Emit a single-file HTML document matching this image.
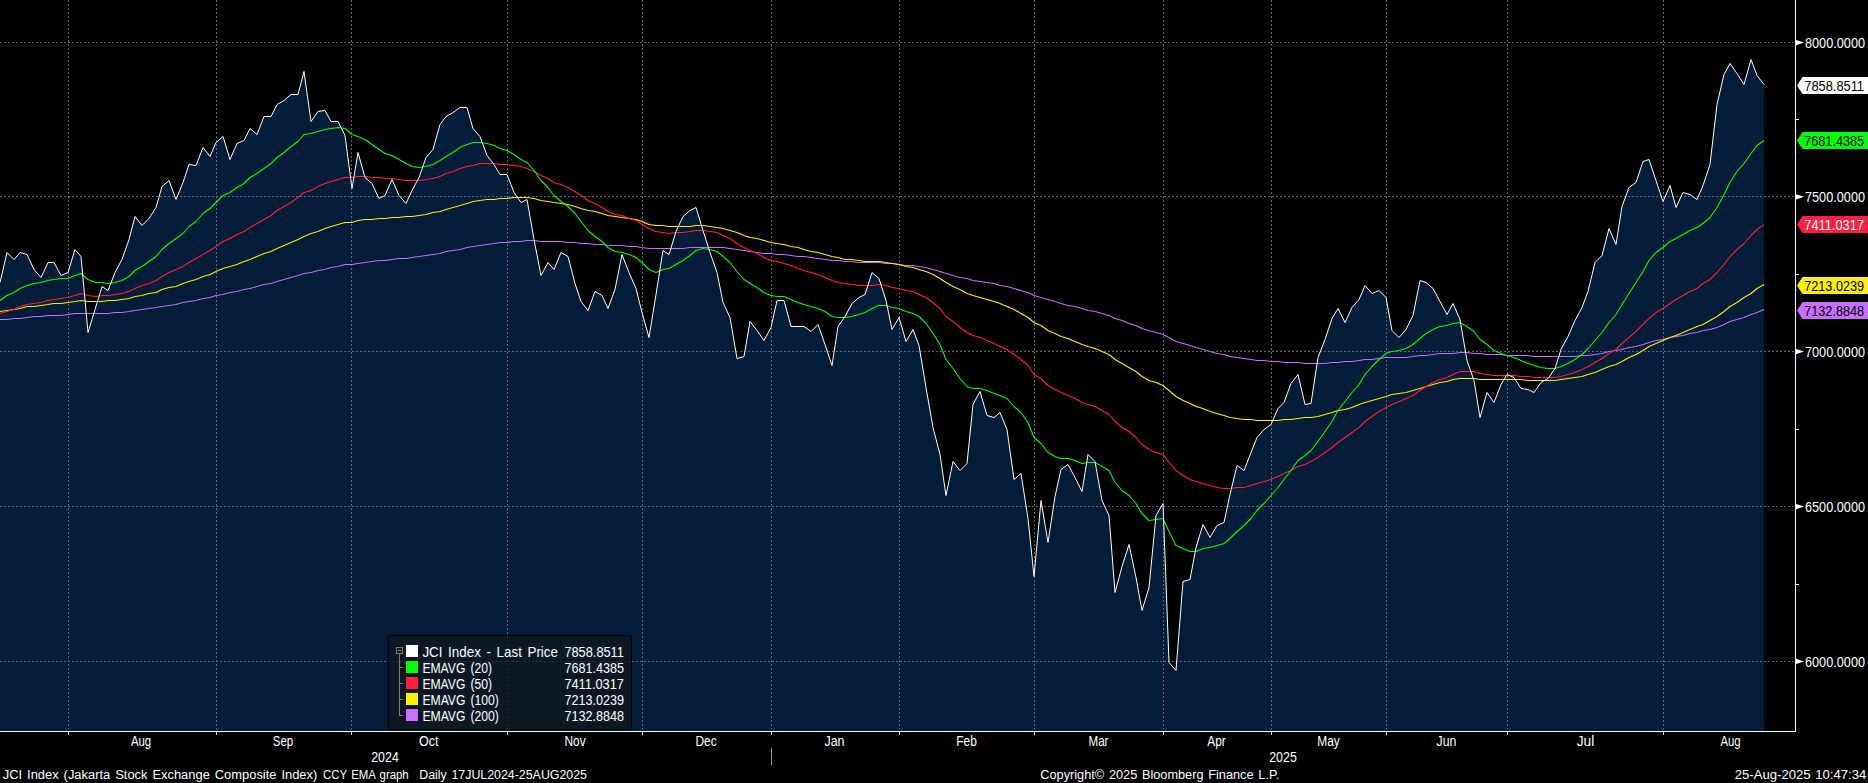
<!DOCTYPE html><html><head><meta charset="utf-8"><title>JCI Index</title><style>html,body{margin:0;padding:0;background:#000;overflow:hidden}body{width:1868px;height:783px;position:relative;font-family:"Liberation Sans",sans-serif}</style></head><body><svg width="1868" height="783" viewBox="0 0 1868 783" style="position:absolute;left:0;top:0" font-family="Liberation Sans, sans-serif"><defs><clipPath id="ac"><path d="M0,731 L0,282.50 L0.00,282.50 L7.00,252.50 L14.00,259.50 L20.00,252.50 L27.00,254.50 L34.00,269.50 L41.00,277.50 L48.00,262.50 L54.00,262.50 L61.00,275.50 L68.00,272.50 L75.00,249.50 L81.00,256.50 L88.00,332.50 L95.00,309.50 L102.00,286.50 L108.00,290.50 L115.00,272.50 L122.00,259.50 L129.00,239.50 L135.00,216.50 L142.00,225.50 L149.00,218.50 L156.00,207.50 L162.00,186.50 L169.00,180.50 L176.00,199.50 L183.00,182.50 L189.00,164.50 L196.00,165.50 L203.00,147.50 L210.00,156.50 L216.00,142.50 L223.00,136.50 L230.00,159.50 L237.00,143.50 L244.00,140.50 L250.00,128.50 L257.00,134.50 L264.00,116.50 L271.00,116.50 L277.00,104.50 L284.00,100.50 L291.00,94.50 L298.00,94.50 L304.00,71.50 L311.00,121.50 L318.00,111.50 L325.00,110.50 L331.00,121.50 L338.00,121.50 L345.00,135.50 L352.00,188.50 L358.00,152.50 L365.00,177.50 L372.00,183.50 L379.00,198.50 L385.00,195.50 L392.00,179.50 L399.00,195.50 L406.00,203.50 L412.00,190.50 L419.00,177.50 L426.00,157.50 L433.00,149.50 L440.00,124.50 L446.00,116.50 L453.00,112.50 L460.00,107.50 L467.00,107.50 L473.00,128.50 L480.00,136.50 L487.00,155.50 L494.00,164.50 L500.00,174.50 L507.00,174.50 L514.00,192.50 L521.00,202.50 L527.00,199.50 L534.00,239.50 L541.00,275.50 L548.00,262.50 L554.00,269.50 L561.00,252.50 L568.00,256.50 L575.00,283.50 L581.00,301.50 L588.00,310.50 L595.00,291.50 L602.00,295.50 L608.00,308.50 L615.00,289.50 L622.00,254.50 L629.00,272.50 L636.00,288.50 L642.00,312.50 L649.00,337.50 L656.00,294.50 L663.00,250.50 L669.00,254.50 L676.00,231.50 L683.00,216.50 L690.00,210.50 L696.00,207.50 L703.00,230.50 L710.00,252.50 L717.00,272.50 L723.00,302.50 L730.00,317.50 L737.00,358.50 L744.00,356.50 L750.00,321.50 L757.00,330.50 L764.00,340.50 L771.00,327.50 L777.00,300.50 L784.00,300.50 L791.00,326.50 L798.00,326.50 L804.00,326.50 L811.00,331.50 L818.00,324.50 L825.00,344.50 L832.00,365.50 L838.00,326.50 L845.00,316.50 L852.00,303.50 L859.00,297.50 L865.00,294.50 L872.00,272.50 L879.00,278.50 L886.00,300.50 L892.00,329.50 L899.00,317.50 L906.00,341.50 L913.00,329.50 L919.00,345.50 L926.00,387.50 L933.00,427.50 L940.00,454.50 L946.00,495.50 L953.00,461.50 L960.00,470.50 L967.00,463.50 L973.00,404.50 L980.00,391.50 L987.00,415.50 L994.00,417.50 L1000.00,412.50 L1007.00,429.50 L1014.00,479.50 L1021.00,473.50 L1028.00,518.50 L1034.00,576.50 L1041.00,500.50 L1048.00,542.50 L1055.00,496.50 L1061.00,469.50 L1068.00,464.50 L1075.00,477.50 L1082.00,491.50 L1088.00,454.50 L1095.00,461.50 L1102.00,500.50 L1109.00,515.50 L1115.00,592.50 L1122.00,566.50 L1129.00,544.50 L1136.00,577.50 L1142.00,610.50 L1149.00,587.50 L1156.00,515.50 L1163.00,503.50 L1169.00,662.50 L1176.00,670.50 L1183.00,581.50 L1190.00,579.50 L1196.00,547.50 L1203.00,524.50 L1210.00,537.50 L1217.00,525.50 L1224.00,522.50 L1230.00,494.50 L1237.00,465.50 L1244.00,470.50 L1251.00,452.50 L1257.00,437.50 L1264.00,429.50 L1271.00,424.50 L1278.00,408.50 L1284.00,402.50 L1291.00,383.50 L1298.00,374.50 L1305.00,404.50 L1311.00,403.50 L1318.00,357.50 L1325.00,339.50 L1332.00,318.50 L1338.00,308.50 L1345.00,322.50 L1352.00,307.50 L1359.00,299.50 L1365.00,285.50 L1372.00,293.50 L1379.00,290.50 L1386.00,297.50 L1392.00,330.50 L1399.00,337.50 L1406.00,329.50 L1413.00,315.50 L1420.00,280.50 L1426.00,282.50 L1433.00,288.50 L1440.00,301.50 L1447.00,314.50 L1453.00,303.50 L1460.00,319.50 L1467.00,360.50 L1474.00,380.50 L1480.00,417.50 L1487.00,392.50 L1494.00,402.50 L1501.00,384.50 L1507.00,374.50 L1514.00,377.50 L1521.00,388.50 L1528.00,389.50 L1534.00,392.50 L1541.00,382.50 L1548.00,378.50 L1555.00,368.50 L1561.00,349.50 L1568.00,336.50 L1575.00,320.50 L1582.00,307.50 L1588.00,291.50 L1595.00,262.50 L1602.00,255.50 L1609.00,228.50 L1616.00,244.50 L1622.00,206.50 L1629.00,187.50 L1636.00,182.50 L1643.00,161.50 L1649.00,159.50 L1656.00,180.50 L1663.00,201.50 L1670.00,185.50 L1676.00,207.50 L1683.00,192.50 L1690.00,194.50 L1697.00,199.50 L1703.00,185.50 L1710.00,164.50 L1717.00,104.50 L1724.00,74.50 L1730.00,63.50 L1737.00,73.50 L1744.00,84.50 L1751.00,59.50 L1757.00,75.50 L1764.00,84.50 L1764,84.50 L1764,731 Z"/></clipPath></defs><rect width="1868" height="783" fill="#000"/><path d="M0,731 L0,282.50 L0.00,282.50 L7.00,252.50 L14.00,259.50 L20.00,252.50 L27.00,254.50 L34.00,269.50 L41.00,277.50 L48.00,262.50 L54.00,262.50 L61.00,275.50 L68.00,272.50 L75.00,249.50 L81.00,256.50 L88.00,332.50 L95.00,309.50 L102.00,286.50 L108.00,290.50 L115.00,272.50 L122.00,259.50 L129.00,239.50 L135.00,216.50 L142.00,225.50 L149.00,218.50 L156.00,207.50 L162.00,186.50 L169.00,180.50 L176.00,199.50 L183.00,182.50 L189.00,164.50 L196.00,165.50 L203.00,147.50 L210.00,156.50 L216.00,142.50 L223.00,136.50 L230.00,159.50 L237.00,143.50 L244.00,140.50 L250.00,128.50 L257.00,134.50 L264.00,116.50 L271.00,116.50 L277.00,104.50 L284.00,100.50 L291.00,94.50 L298.00,94.50 L304.00,71.50 L311.00,121.50 L318.00,111.50 L325.00,110.50 L331.00,121.50 L338.00,121.50 L345.00,135.50 L352.00,188.50 L358.00,152.50 L365.00,177.50 L372.00,183.50 L379.00,198.50 L385.00,195.50 L392.00,179.50 L399.00,195.50 L406.00,203.50 L412.00,190.50 L419.00,177.50 L426.00,157.50 L433.00,149.50 L440.00,124.50 L446.00,116.50 L453.00,112.50 L460.00,107.50 L467.00,107.50 L473.00,128.50 L480.00,136.50 L487.00,155.50 L494.00,164.50 L500.00,174.50 L507.00,174.50 L514.00,192.50 L521.00,202.50 L527.00,199.50 L534.00,239.50 L541.00,275.50 L548.00,262.50 L554.00,269.50 L561.00,252.50 L568.00,256.50 L575.00,283.50 L581.00,301.50 L588.00,310.50 L595.00,291.50 L602.00,295.50 L608.00,308.50 L615.00,289.50 L622.00,254.50 L629.00,272.50 L636.00,288.50 L642.00,312.50 L649.00,337.50 L656.00,294.50 L663.00,250.50 L669.00,254.50 L676.00,231.50 L683.00,216.50 L690.00,210.50 L696.00,207.50 L703.00,230.50 L710.00,252.50 L717.00,272.50 L723.00,302.50 L730.00,317.50 L737.00,358.50 L744.00,356.50 L750.00,321.50 L757.00,330.50 L764.00,340.50 L771.00,327.50 L777.00,300.50 L784.00,300.50 L791.00,326.50 L798.00,326.50 L804.00,326.50 L811.00,331.50 L818.00,324.50 L825.00,344.50 L832.00,365.50 L838.00,326.50 L845.00,316.50 L852.00,303.50 L859.00,297.50 L865.00,294.50 L872.00,272.50 L879.00,278.50 L886.00,300.50 L892.00,329.50 L899.00,317.50 L906.00,341.50 L913.00,329.50 L919.00,345.50 L926.00,387.50 L933.00,427.50 L940.00,454.50 L946.00,495.50 L953.00,461.50 L960.00,470.50 L967.00,463.50 L973.00,404.50 L980.00,391.50 L987.00,415.50 L994.00,417.50 L1000.00,412.50 L1007.00,429.50 L1014.00,479.50 L1021.00,473.50 L1028.00,518.50 L1034.00,576.50 L1041.00,500.50 L1048.00,542.50 L1055.00,496.50 L1061.00,469.50 L1068.00,464.50 L1075.00,477.50 L1082.00,491.50 L1088.00,454.50 L1095.00,461.50 L1102.00,500.50 L1109.00,515.50 L1115.00,592.50 L1122.00,566.50 L1129.00,544.50 L1136.00,577.50 L1142.00,610.50 L1149.00,587.50 L1156.00,515.50 L1163.00,503.50 L1169.00,662.50 L1176.00,670.50 L1183.00,581.50 L1190.00,579.50 L1196.00,547.50 L1203.00,524.50 L1210.00,537.50 L1217.00,525.50 L1224.00,522.50 L1230.00,494.50 L1237.00,465.50 L1244.00,470.50 L1251.00,452.50 L1257.00,437.50 L1264.00,429.50 L1271.00,424.50 L1278.00,408.50 L1284.00,402.50 L1291.00,383.50 L1298.00,374.50 L1305.00,404.50 L1311.00,403.50 L1318.00,357.50 L1325.00,339.50 L1332.00,318.50 L1338.00,308.50 L1345.00,322.50 L1352.00,307.50 L1359.00,299.50 L1365.00,285.50 L1372.00,293.50 L1379.00,290.50 L1386.00,297.50 L1392.00,330.50 L1399.00,337.50 L1406.00,329.50 L1413.00,315.50 L1420.00,280.50 L1426.00,282.50 L1433.00,288.50 L1440.00,301.50 L1447.00,314.50 L1453.00,303.50 L1460.00,319.50 L1467.00,360.50 L1474.00,380.50 L1480.00,417.50 L1487.00,392.50 L1494.00,402.50 L1501.00,384.50 L1507.00,374.50 L1514.00,377.50 L1521.00,388.50 L1528.00,389.50 L1534.00,392.50 L1541.00,382.50 L1548.00,378.50 L1555.00,368.50 L1561.00,349.50 L1568.00,336.50 L1575.00,320.50 L1582.00,307.50 L1588.00,291.50 L1595.00,262.50 L1602.00,255.50 L1609.00,228.50 L1616.00,244.50 L1622.00,206.50 L1629.00,187.50 L1636.00,182.50 L1643.00,161.50 L1649.00,159.50 L1656.00,180.50 L1663.00,201.50 L1670.00,185.50 L1676.00,207.50 L1683.00,192.50 L1690.00,194.50 L1697.00,199.50 L1703.00,185.50 L1710.00,164.50 L1717.00,104.50 L1724.00,74.50 L1730.00,63.50 L1737.00,73.50 L1744.00,84.50 L1751.00,59.50 L1757.00,75.50 L1764.00,84.50 L1764,84.50 L1764,731 Z" fill="#031c37"/><g shape-rendering="crispEdges"><line x1="68.5" y1="0" x2="68.5" y2="731" stroke="#626262" stroke-width="1" stroke-dasharray="2 2"/><line x1="216.5" y1="0" x2="216.5" y2="731" stroke="#626262" stroke-width="1" stroke-dasharray="2 2"/><line x1="351.5" y1="0" x2="351.5" y2="731" stroke="#626262" stroke-width="1" stroke-dasharray="2 2"/><line x1="507.5" y1="0" x2="507.5" y2="731" stroke="#626262" stroke-width="1" stroke-dasharray="2 2"/><line x1="642.5" y1="0" x2="642.5" y2="731" stroke="#626262" stroke-width="1" stroke-dasharray="2 2"/><line x1="771.5" y1="0" x2="771.5" y2="731" stroke="#626262" stroke-width="1" stroke-dasharray="2 2"/><line x1="899.5" y1="0" x2="899.5" y2="731" stroke="#626262" stroke-width="1" stroke-dasharray="2 2"/><line x1="1034.5" y1="0" x2="1034.5" y2="731" stroke="#626262" stroke-width="1" stroke-dasharray="2 2"/><line x1="1163.5" y1="0" x2="1163.5" y2="731" stroke="#626262" stroke-width="1" stroke-dasharray="2 2"/><line x1="1271.5" y1="0" x2="1271.5" y2="731" stroke="#626262" stroke-width="1" stroke-dasharray="2 2"/><line x1="1386.5" y1="0" x2="1386.5" y2="731" stroke="#626262" stroke-width="1" stroke-dasharray="2 2"/><line x1="1507.5" y1="0" x2="1507.5" y2="731" stroke="#626262" stroke-width="1" stroke-dasharray="2 2"/><line x1="1663.5" y1="0" x2="1663.5" y2="731" stroke="#626262" stroke-width="1" stroke-dasharray="2 2"/><line x1="0" y1="42.5" x2="1795" y2="42.5" stroke="#626262" stroke-width="1" stroke-dasharray="2 2"/><line x1="0" y1="196.5" x2="1795" y2="196.5" stroke="#626262" stroke-width="1" stroke-dasharray="2 2"/><line x1="0" y1="351.5" x2="1795" y2="351.5" stroke="#626262" stroke-width="1" stroke-dasharray="2 2"/><line x1="0" y1="506.5" x2="1795" y2="506.5" stroke="#626262" stroke-width="1" stroke-dasharray="2 2"/><line x1="0" y1="661.5" x2="1795" y2="661.5" stroke="#626262" stroke-width="1" stroke-dasharray="2 2"/></g><g shape-rendering="crispEdges" clip-path="url(#ac)"><line x1="68.5" y1="0" x2="68.5" y2="731" stroke="#526986" stroke-width="1" stroke-dasharray="2 2"/><line x1="216.5" y1="0" x2="216.5" y2="731" stroke="#526986" stroke-width="1" stroke-dasharray="2 2"/><line x1="351.5" y1="0" x2="351.5" y2="731" stroke="#526986" stroke-width="1" stroke-dasharray="2 2"/><line x1="507.5" y1="0" x2="507.5" y2="731" stroke="#526986" stroke-width="1" stroke-dasharray="2 2"/><line x1="642.5" y1="0" x2="642.5" y2="731" stroke="#526986" stroke-width="1" stroke-dasharray="2 2"/><line x1="771.5" y1="0" x2="771.5" y2="731" stroke="#526986" stroke-width="1" stroke-dasharray="2 2"/><line x1="899.5" y1="0" x2="899.5" y2="731" stroke="#526986" stroke-width="1" stroke-dasharray="2 2"/><line x1="1034.5" y1="0" x2="1034.5" y2="731" stroke="#526986" stroke-width="1" stroke-dasharray="2 2"/><line x1="1163.5" y1="0" x2="1163.5" y2="731" stroke="#526986" stroke-width="1" stroke-dasharray="2 2"/><line x1="1271.5" y1="0" x2="1271.5" y2="731" stroke="#526986" stroke-width="1" stroke-dasharray="2 2"/><line x1="1386.5" y1="0" x2="1386.5" y2="731" stroke="#526986" stroke-width="1" stroke-dasharray="2 2"/><line x1="1507.5" y1="0" x2="1507.5" y2="731" stroke="#526986" stroke-width="1" stroke-dasharray="2 2"/><line x1="1663.5" y1="0" x2="1663.5" y2="731" stroke="#526986" stroke-width="1" stroke-dasharray="2 2"/><line x1="0" y1="42.5" x2="1795" y2="42.5" stroke="#526986" stroke-width="1" stroke-dasharray="2 2"/><line x1="0" y1="196.5" x2="1795" y2="196.5" stroke="#526986" stroke-width="1" stroke-dasharray="2 2"/><line x1="0" y1="351.5" x2="1795" y2="351.5" stroke="#526986" stroke-width="1" stroke-dasharray="2 2"/><line x1="0" y1="506.5" x2="1795" y2="506.5" stroke="#526986" stroke-width="1" stroke-dasharray="2 2"/><line x1="0" y1="661.5" x2="1795" y2="661.5" stroke="#526986" stroke-width="1" stroke-dasharray="2 2"/></g><path d="M0.00,319.50 L7.00,319.50 L14.00,318.50 L20.00,318.50 L27.00,317.50 L34.00,316.50 L41.00,316.50 L48.00,315.50 L54.00,315.50 L61.00,315.50 L68.00,314.50 L75.00,313.50 L81.00,313.50 L88.00,313.50 L95.00,313.50 L102.00,313.50 L108.00,313.50 L115.00,312.50 L122.00,312.50 L129.00,311.50 L135.00,310.50 L142.00,309.50 L149.00,308.50 L156.00,307.50 L162.00,306.50 L169.00,305.50 L176.00,304.50 L183.00,302.50 L189.00,301.50 L196.00,300.50 L203.00,298.50 L210.00,297.50 L216.00,295.50 L223.00,294.50 L230.00,292.50 L237.00,291.50 L244.00,289.50 L250.00,288.50 L257.00,286.50 L264.00,284.50 L271.00,283.50 L277.00,281.50 L284.00,279.50 L291.00,277.50 L298.00,275.50 L304.00,273.50 L311.00,272.50 L318.00,270.50 L325.00,269.50 L331.00,267.50 L338.00,266.50 L345.00,264.50 L352.00,264.50 L358.00,263.50 L365.00,262.50 L372.00,261.50 L379.00,260.50 L385.00,260.50 L392.00,259.50 L399.00,258.50 L406.00,258.50 L412.00,257.50 L419.00,256.50 L426.00,255.50 L433.00,254.50 L440.00,253.50 L446.00,251.50 L453.00,250.50 L460.00,249.50 L467.00,247.50 L473.00,246.50 L480.00,245.50 L487.00,244.50 L494.00,243.50 L500.00,242.50 L507.00,242.50 L514.00,241.50 L521.00,241.50 L527.00,240.50 L534.00,240.50 L541.00,241.50 L548.00,241.50 L554.00,241.50 L561.00,241.50 L568.00,242.50 L575.00,242.50 L581.00,243.50 L588.00,243.50 L595.00,244.50 L602.00,244.50 L608.00,245.50 L615.00,245.50 L622.00,245.50 L629.00,246.50 L636.00,246.50 L642.00,247.50 L649.00,248.50 L656.00,248.50 L663.00,248.50 L669.00,248.50 L676.00,248.50 L683.00,248.50 L690.00,247.50 L696.00,247.50 L703.00,247.50 L710.00,247.50 L717.00,247.50 L723.00,247.50 L730.00,248.50 L737.00,249.50 L744.00,250.50 L750.00,251.50 L757.00,252.50 L764.00,253.50 L771.00,253.50 L777.00,254.50 L784.00,254.50 L791.00,255.50 L798.00,256.50 L804.00,256.50 L811.00,257.50 L818.00,258.50 L825.00,259.50 L832.00,260.50 L838.00,260.50 L845.00,261.50 L852.00,261.50 L859.00,262.50 L865.00,262.50 L872.00,262.50 L879.00,262.50 L886.00,263.50 L892.00,263.50 L899.00,264.50 L906.00,265.50 L913.00,265.50 L919.00,266.50 L926.00,267.50 L933.00,269.50 L940.00,271.50 L946.00,273.50 L953.00,275.50 L960.00,277.50 L967.00,278.50 L973.00,280.50 L980.00,281.50 L987.00,282.50 L994.00,283.50 L1000.00,285.50 L1007.00,286.50 L1014.00,288.50 L1021.00,290.50 L1028.00,292.50 L1034.00,295.50 L1041.00,297.50 L1048.00,299.50 L1055.00,301.50 L1061.00,303.50 L1068.00,305.50 L1075.00,306.50 L1082.00,308.50 L1088.00,310.50 L1095.00,311.50 L1102.00,313.50 L1109.00,315.50 L1115.00,318.50 L1122.00,320.50 L1129.00,323.50 L1136.00,325.50 L1142.00,328.50 L1149.00,330.50 L1156.00,332.50 L1163.00,334.50 L1169.00,337.50 L1176.00,341.50 L1183.00,343.50 L1190.00,345.50 L1196.00,347.50 L1203.00,349.50 L1210.00,351.50 L1217.00,353.50 L1224.00,354.50 L1230.00,356.50 L1237.00,357.50 L1244.00,358.50 L1251.00,359.50 L1257.00,360.50 L1264.00,360.50 L1271.00,361.50 L1278.00,361.50 L1284.00,362.50 L1291.00,362.50 L1298.00,362.50 L1305.00,363.50 L1311.00,363.50 L1318.00,363.50 L1325.00,363.50 L1332.00,362.50 L1338.00,362.50 L1345.00,361.50 L1352.00,361.50 L1359.00,360.50 L1365.00,359.50 L1372.00,359.50 L1379.00,358.50 L1386.00,357.50 L1392.00,357.50 L1399.00,357.50 L1406.00,357.50 L1413.00,356.50 L1420.00,355.50 L1426.00,355.50 L1433.00,354.50 L1440.00,353.50 L1447.00,353.50 L1453.00,353.50 L1460.00,352.50 L1467.00,352.50 L1474.00,353.50 L1480.00,353.50 L1487.00,354.50 L1494.00,354.50 L1501.00,354.50 L1507.00,355.50 L1514.00,355.50 L1521.00,355.50 L1528.00,355.50 L1534.00,356.50 L1541.00,356.50 L1548.00,356.50 L1555.00,356.50 L1561.00,356.50 L1568.00,356.50 L1575.00,356.50 L1582.00,355.50 L1588.00,355.50 L1595.00,354.50 L1602.00,353.50 L1609.00,351.50 L1616.00,350.50 L1622.00,349.50 L1629.00,347.50 L1636.00,346.50 L1643.00,344.50 L1649.00,342.50 L1656.00,340.50 L1663.00,339.50 L1670.00,337.50 L1676.00,336.50 L1683.00,335.50 L1690.00,333.50 L1697.00,332.50 L1703.00,330.50 L1710.00,329.50 L1717.00,327.50 L1724.00,324.50 L1730.00,321.50 L1737.00,319.50 L1744.00,317.50 L1751.00,314.50 L1757.00,312.50 L1764.00,309.50" fill="none" stroke="#c76fff" stroke-width="1.1" stroke-linejoin="round"/><path d="M0.00,311.50 L7.00,310.50 L14.00,309.50 L20.00,308.50 L27.00,306.50 L34.00,306.50 L41.00,305.50 L48.00,304.50 L54.00,303.50 L61.00,303.50 L68.00,302.50 L75.00,301.50 L81.00,300.50 L88.00,301.50 L95.00,301.50 L102.00,301.50 L108.00,300.50 L115.00,300.50 L122.00,299.50 L129.00,298.50 L135.00,296.50 L142.00,295.50 L149.00,293.50 L156.00,292.50 L162.00,289.50 L169.00,287.50 L176.00,286.50 L183.00,283.50 L189.00,281.50 L196.00,279.50 L203.00,276.50 L210.00,274.50 L216.00,271.50 L223.00,268.50 L230.00,266.50 L237.00,264.50 L244.00,261.50 L250.00,259.50 L257.00,256.50 L264.00,253.50 L271.00,251.50 L277.00,248.50 L284.00,245.50 L291.00,242.50 L298.00,239.50 L304.00,236.50 L311.00,233.50 L318.00,231.50 L325.00,228.50 L331.00,226.50 L338.00,224.50 L345.00,222.50 L352.00,222.50 L358.00,220.50 L365.00,219.50 L372.00,219.50 L379.00,218.50 L385.00,218.50 L392.00,217.50 L399.00,217.50 L406.00,216.50 L412.00,216.50 L419.00,215.50 L426.00,214.50 L433.00,212.50 L440.00,211.50 L446.00,209.50 L453.00,207.50 L460.00,205.50 L467.00,203.50 L473.00,201.50 L480.00,200.50 L487.00,199.50 L494.00,199.50 L500.00,198.50 L507.00,198.50 L514.00,197.50 L521.00,197.50 L527.00,197.50 L534.00,198.50 L541.00,200.50 L548.00,201.50 L554.00,202.50 L561.00,203.50 L568.00,204.50 L575.00,206.50 L581.00,208.50 L588.00,210.50 L595.00,211.50 L602.00,213.50 L608.00,215.50 L615.00,216.50 L622.00,217.50 L629.00,218.50 L636.00,219.50 L642.00,221.50 L649.00,224.50 L656.00,225.50 L663.00,225.50 L669.00,226.50 L676.00,226.50 L683.00,226.50 L690.00,226.50 L696.00,225.50 L703.00,225.50 L710.00,226.50 L717.00,227.50 L723.00,228.50 L730.00,230.50 L737.00,232.50 L744.00,235.50 L750.00,237.50 L757.00,238.50 L764.00,240.50 L771.00,242.50 L777.00,243.50 L784.00,244.50 L791.00,246.50 L798.00,247.50 L804.00,249.50 L811.00,251.50 L818.00,252.50 L825.00,254.50 L832.00,256.50 L838.00,257.50 L845.00,259.50 L852.00,259.50 L859.00,260.50 L865.00,261.50 L872.00,261.50 L879.00,261.50 L886.00,262.50 L892.00,263.50 L899.00,264.50 L906.00,266.50 L913.00,267.50 L919.00,269.50 L926.00,271.50 L933.00,274.50 L940.00,278.50 L946.00,282.50 L953.00,286.50 L960.00,289.50 L967.00,293.50 L973.00,295.50 L980.00,297.50 L987.00,299.50 L994.00,301.50 L1000.00,303.50 L1007.00,306.50 L1014.00,309.50 L1021.00,313.50 L1028.00,317.50 L1034.00,322.50 L1041.00,325.50 L1048.00,330.50 L1055.00,333.50 L1061.00,336.50 L1068.00,338.50 L1075.00,341.50 L1082.00,344.50 L1088.00,346.50 L1095.00,348.50 L1102.00,351.50 L1109.00,354.50 L1115.00,359.50 L1122.00,363.50 L1129.00,367.50 L1136.00,371.50 L1142.00,376.50 L1149.00,380.50 L1156.00,382.50 L1163.00,385.50 L1169.00,390.50 L1176.00,396.50 L1183.00,400.50 L1190.00,403.50 L1196.00,406.50 L1203.00,408.50 L1210.00,411.50 L1217.00,413.50 L1224.00,415.50 L1230.00,417.50 L1237.00,418.50 L1244.00,419.50 L1251.00,419.50 L1257.00,420.50 L1264.00,420.50 L1271.00,420.50 L1278.00,420.50 L1284.00,419.50 L1291.00,419.50 L1298.00,418.50 L1305.00,417.50 L1311.00,417.50 L1318.00,416.50 L1325.00,414.50 L1332.00,412.50 L1338.00,410.50 L1345.00,409.50 L1352.00,407.50 L1359.00,404.50 L1365.00,402.50 L1372.00,400.50 L1379.00,398.50 L1386.00,396.50 L1392.00,394.50 L1399.00,393.50 L1406.00,392.50 L1413.00,390.50 L1420.00,388.50 L1426.00,386.50 L1433.00,384.50 L1440.00,382.50 L1447.00,381.50 L1453.00,379.50 L1460.00,378.50 L1467.00,378.50 L1474.00,378.50 L1480.00,379.50 L1487.00,379.50 L1494.00,379.50 L1501.00,379.50 L1507.00,379.50 L1514.00,379.50 L1521.00,379.50 L1528.00,380.50 L1534.00,380.50 L1541.00,380.50 L1548.00,380.50 L1555.00,380.50 L1561.00,379.50 L1568.00,378.50 L1575.00,377.50 L1582.00,376.50 L1588.00,374.50 L1595.00,372.50 L1602.00,369.50 L1609.00,366.50 L1616.00,364.50 L1622.00,361.50 L1629.00,357.50 L1636.00,354.50 L1643.00,350.50 L1649.00,346.50 L1656.00,343.50 L1663.00,340.50 L1670.00,337.50 L1676.00,335.50 L1683.00,332.50 L1690.00,329.50 L1697.00,326.50 L1703.00,324.50 L1710.00,320.50 L1717.00,316.50 L1724.00,311.50 L1730.00,306.50 L1737.00,302.50 L1744.00,297.50 L1751.00,293.50 L1757.00,288.50 L1764.00,284.50" fill="none" stroke="#fff000" stroke-width="1.1" stroke-linejoin="round"/><path d="M0.00,313.50 L7.00,311.50 L14.00,309.50 L20.00,306.50 L27.00,304.50 L34.00,303.50 L41.00,302.50 L48.00,300.50 L54.00,299.50 L61.00,298.50 L68.00,297.50 L75.00,295.50 L81.00,293.50 L88.00,295.50 L95.00,296.50 L102.00,295.50 L108.00,295.50 L115.00,294.50 L122.00,293.50 L129.00,291.50 L135.00,288.50 L142.00,285.50 L149.00,283.50 L156.00,280.50 L162.00,276.50 L169.00,272.50 L176.00,269.50 L183.00,266.50 L189.00,262.50 L196.00,258.50 L203.00,254.50 L210.00,250.50 L216.00,246.50 L223.00,241.50 L230.00,238.50 L237.00,234.50 L244.00,231.50 L250.00,227.50 L257.00,223.50 L264.00,219.50 L271.00,215.50 L277.00,210.50 L284.00,206.50 L291.00,202.50 L298.00,197.50 L304.00,192.50 L311.00,190.50 L318.00,186.50 L325.00,183.50 L331.00,181.50 L338.00,179.50 L345.00,177.50 L352.00,177.50 L358.00,176.50 L365.00,176.50 L372.00,177.50 L379.00,177.50 L385.00,178.50 L392.00,178.50 L399.00,179.50 L406.00,180.50 L412.00,180.50 L419.00,180.50 L426.00,179.50 L433.00,178.50 L440.00,176.50 L446.00,173.50 L453.00,171.50 L460.00,168.50 L467.00,166.50 L473.00,165.50 L480.00,163.50 L487.00,163.50 L494.00,163.50 L500.00,164.50 L507.00,164.50 L514.00,165.50 L521.00,166.50 L527.00,168.50 L534.00,171.50 L541.00,175.50 L548.00,178.50 L554.00,182.50 L561.00,184.50 L568.00,187.50 L575.00,191.50 L581.00,195.50 L588.00,200.50 L595.00,203.50 L602.00,207.50 L608.00,211.50 L615.00,214.50 L622.00,215.50 L629.00,218.50 L636.00,220.50 L642.00,224.50 L649.00,228.50 L656.00,231.50 L663.00,232.50 L669.00,233.50 L676.00,232.50 L683.00,232.50 L690.00,231.50 L696.00,230.50 L703.00,230.50 L710.00,231.50 L717.00,232.50 L723.00,235.50 L730.00,238.50 L737.00,243.50 L744.00,247.50 L750.00,250.50 L757.00,253.50 L764.00,257.50 L771.00,260.50 L777.00,261.50 L784.00,263.50 L791.00,265.50 L798.00,268.50 L804.00,270.50 L811.00,272.50 L818.00,274.50 L825.00,277.50 L832.00,280.50 L838.00,282.50 L845.00,283.50 L852.00,284.50 L859.00,285.50 L865.00,285.50 L872.00,285.50 L879.00,284.50 L886.00,285.50 L892.00,287.50 L899.00,288.50 L906.00,290.50 L913.00,291.50 L919.00,294.50 L926.00,297.50 L933.00,302.50 L940.00,308.50 L946.00,316.50 L953.00,321.50 L960.00,327.50 L967.00,332.50 L973.00,335.50 L980.00,337.50 L987.00,340.50 L994.00,343.50 L1000.00,346.50 L1007.00,349.50 L1014.00,354.50 L1021.00,359.50 L1028.00,365.50 L1034.00,374.50 L1041.00,378.50 L1048.00,385.50 L1055.00,389.50 L1061.00,392.50 L1068.00,395.50 L1075.00,398.50 L1082.00,402.50 L1088.00,404.50 L1095.00,406.50 L1102.00,410.50 L1109.00,414.50 L1115.00,421.50 L1122.00,427.50 L1129.00,431.50 L1136.00,437.50 L1142.00,444.50 L1149.00,449.50 L1156.00,452.50 L1163.00,454.50 L1169.00,462.50 L1176.00,470.50 L1183.00,475.50 L1190.00,479.50 L1196.00,481.50 L1203.00,483.50 L1210.00,485.50 L1217.00,487.50 L1224.00,488.50 L1230.00,488.50 L1237.00,487.50 L1244.00,487.50 L1251.00,485.50 L1257.00,483.50 L1264.00,481.50 L1271.00,479.50 L1278.00,476.50 L1284.00,473.50 L1291.00,470.50 L1298.00,466.50 L1305.00,464.50 L1311.00,461.50 L1318.00,457.50 L1325.00,452.50 L1332.00,447.50 L1338.00,442.50 L1345.00,437.50 L1352.00,432.50 L1359.00,427.50 L1365.00,421.50 L1372.00,416.50 L1379.00,411.50 L1386.00,407.50 L1392.00,404.50 L1399.00,401.50 L1406.00,398.50 L1413.00,395.50 L1420.00,390.50 L1426.00,386.50 L1433.00,382.50 L1440.00,379.50 L1447.00,377.50 L1453.00,374.50 L1460.00,371.50 L1467.00,371.50 L1474.00,371.50 L1480.00,373.50 L1487.00,374.50 L1494.00,375.50 L1501.00,375.50 L1507.00,375.50 L1514.00,375.50 L1521.00,376.50 L1528.00,376.50 L1534.00,377.50 L1541.00,377.50 L1548.00,377.50 L1555.00,377.50 L1561.00,376.50 L1568.00,374.50 L1575.00,372.50 L1582.00,369.50 L1588.00,366.50 L1595.00,362.50 L1602.00,358.50 L1609.00,353.50 L1616.00,349.50 L1622.00,343.50 L1629.00,337.50 L1636.00,331.50 L1643.00,324.50 L1649.00,318.50 L1656.00,312.50 L1663.00,308.50 L1670.00,303.50 L1676.00,299.50 L1683.00,295.50 L1690.00,291.50 L1697.00,288.50 L1703.00,283.50 L1710.00,279.50 L1717.00,272.50 L1724.00,264.50 L1730.00,256.50 L1737.00,249.50 L1744.00,243.50 L1751.00,235.50 L1757.00,229.50 L1764.00,224.50" fill="none" stroke="#ff1f40" stroke-width="1.1" stroke-linejoin="round"/><path d="M0.00,300.50 L7.00,295.50 L14.00,292.50 L20.00,288.50 L27.00,285.50 L34.00,283.50 L41.00,282.50 L48.00,280.50 L54.00,279.50 L61.00,278.50 L68.00,278.50 L75.00,275.50 L81.00,273.50 L88.00,279.50 L95.00,282.50 L102.00,282.50 L108.00,283.50 L115.00,282.50 L122.00,280.50 L129.00,276.50 L135.00,270.50 L142.00,266.50 L149.00,261.50 L156.00,256.50 L162.00,249.50 L169.00,243.50 L176.00,238.50 L183.00,233.50 L189.00,226.50 L196.00,221.50 L203.00,213.50 L210.00,208.50 L216.00,202.50 L223.00,195.50 L230.00,192.50 L237.00,187.50 L244.00,183.50 L250.00,177.50 L257.00,173.50 L264.00,168.50 L271.00,163.50 L277.00,157.50 L284.00,152.50 L291.00,146.50 L298.00,141.50 L304.00,134.50 L311.00,133.50 L318.00,131.50 L325.00,129.50 L331.00,128.50 L338.00,127.50 L345.00,128.50 L352.00,134.50 L358.00,136.50 L365.00,139.50 L372.00,144.50 L379.00,149.50 L385.00,153.50 L392.00,155.50 L399.00,159.50 L406.00,163.50 L412.00,166.50 L419.00,167.50 L426.00,166.50 L433.00,164.50 L440.00,160.50 L446.00,156.50 L453.00,152.50 L460.00,147.50 L467.00,144.50 L473.00,142.50 L480.00,142.50 L487.00,143.50 L494.00,145.50 L500.00,148.50 L507.00,150.50 L514.00,154.50 L521.00,159.50 L527.00,162.50 L534.00,170.50 L541.00,180.50 L548.00,187.50 L554.00,195.50 L561.00,201.50 L568.00,206.50 L575.00,213.50 L581.00,221.50 L588.00,230.50 L595.00,236.50 L602.00,241.50 L608.00,247.50 L615.00,251.50 L622.00,252.50 L629.00,254.50 L636.00,257.50 L642.00,262.50 L649.00,269.50 L656.00,272.50 L663.00,269.50 L669.00,268.50 L676.00,264.50 L683.00,260.50 L690.00,255.50 L696.00,250.50 L703.00,248.50 L710.00,249.50 L717.00,251.50 L723.00,256.50 L730.00,262.50 L737.00,271.50 L744.00,279.50 L750.00,283.50 L757.00,287.50 L764.00,292.50 L771.00,295.50 L777.00,296.50 L784.00,296.50 L791.00,299.50 L798.00,302.50 L804.00,304.50 L811.00,306.50 L818.00,308.50 L825.00,311.50 L832.00,316.50 L838.00,317.50 L845.00,317.50 L852.00,316.50 L859.00,314.50 L865.00,312.50 L872.00,308.50 L879.00,305.50 L886.00,305.50 L892.00,307.50 L899.00,308.50 L906.00,311.50 L913.00,313.50 L919.00,316.50 L926.00,323.50 L933.00,333.50 L940.00,344.50 L946.00,359.50 L953.00,368.50 L960.00,378.50 L967.00,386.50 L973.00,388.50 L980.00,388.50 L987.00,390.50 L994.00,393.50 L1000.00,395.50 L1007.00,398.50 L1014.00,406.50 L1021.00,412.50 L1028.00,422.50 L1034.00,437.50 L1041.00,443.50 L1048.00,452.50 L1055.00,456.50 L1061.00,458.50 L1068.00,458.50 L1075.00,460.50 L1082.00,463.50 L1088.00,462.50 L1095.00,462.50 L1102.00,466.50 L1109.00,470.50 L1115.00,482.50 L1122.00,490.50 L1129.00,495.50 L1136.00,503.50 L1142.00,513.50 L1149.00,520.50 L1156.00,519.50 L1163.00,518.50 L1169.00,531.50 L1176.00,545.50 L1183.00,548.50 L1190.00,551.50 L1196.00,551.50 L1203.00,548.50 L1210.00,547.50 L1217.00,545.50 L1224.00,543.50 L1230.00,538.50 L1237.00,531.50 L1244.00,525.50 L1251.00,518.50 L1257.00,510.50 L1264.00,503.50 L1271.00,495.50 L1278.00,487.50 L1284.00,479.50 L1291.00,470.50 L1298.00,460.50 L1305.00,455.50 L1311.00,450.50 L1318.00,441.50 L1325.00,431.50 L1332.00,421.50 L1338.00,410.50 L1345.00,401.50 L1352.00,392.50 L1359.00,384.50 L1365.00,374.50 L1372.00,366.50 L1379.00,359.50 L1386.00,353.50 L1392.00,351.50 L1399.00,350.50 L1406.00,348.50 L1413.00,344.50 L1420.00,338.50 L1426.00,333.50 L1433.00,329.50 L1440.00,326.50 L1447.00,325.50 L1453.00,323.50 L1460.00,322.50 L1467.00,326.50 L1474.00,331.50 L1480.00,339.50 L1487.00,344.50 L1494.00,350.50 L1501.00,353.50 L1507.00,355.50 L1514.00,357.50 L1521.00,360.50 L1528.00,363.50 L1534.00,365.50 L1541.00,367.50 L1548.00,368.50 L1555.00,368.50 L1561.00,366.50 L1568.00,363.50 L1575.00,359.50 L1582.00,354.50 L1588.00,348.50 L1595.00,340.50 L1602.00,332.50 L1609.00,322.50 L1616.00,314.50 L1622.00,304.50 L1629.00,293.50 L1636.00,282.50 L1643.00,271.50 L1649.00,260.50 L1656.00,252.50 L1663.00,247.50 L1670.00,241.50 L1676.00,238.50 L1683.00,234.50 L1690.00,230.50 L1697.00,227.50 L1703.00,223.50 L1710.00,217.50 L1717.00,207.50 L1724.00,194.50 L1730.00,182.50 L1737.00,171.50 L1744.00,163.50 L1751.00,153.50 L1757.00,145.50 L1764.00,140.50" fill="none" stroke="#00ff00" stroke-width="1.1" stroke-linejoin="round"/><path d="M0.00,282.50 L7.00,252.50 L14.00,259.50 L20.00,252.50 L27.00,254.50 L34.00,269.50 L41.00,277.50 L48.00,262.50 L54.00,262.50 L61.00,275.50 L68.00,272.50 L75.00,249.50 L81.00,256.50 L88.00,332.50 L95.00,309.50 L102.00,286.50 L108.00,290.50 L115.00,272.50 L122.00,259.50 L129.00,239.50 L135.00,216.50 L142.00,225.50 L149.00,218.50 L156.00,207.50 L162.00,186.50 L169.00,180.50 L176.00,199.50 L183.00,182.50 L189.00,164.50 L196.00,165.50 L203.00,147.50 L210.00,156.50 L216.00,142.50 L223.00,136.50 L230.00,159.50 L237.00,143.50 L244.00,140.50 L250.00,128.50 L257.00,134.50 L264.00,116.50 L271.00,116.50 L277.00,104.50 L284.00,100.50 L291.00,94.50 L298.00,94.50 L304.00,71.50 L311.00,121.50 L318.00,111.50 L325.00,110.50 L331.00,121.50 L338.00,121.50 L345.00,135.50 L352.00,188.50 L358.00,152.50 L365.00,177.50 L372.00,183.50 L379.00,198.50 L385.00,195.50 L392.00,179.50 L399.00,195.50 L406.00,203.50 L412.00,190.50 L419.00,177.50 L426.00,157.50 L433.00,149.50 L440.00,124.50 L446.00,116.50 L453.00,112.50 L460.00,107.50 L467.00,107.50 L473.00,128.50 L480.00,136.50 L487.00,155.50 L494.00,164.50 L500.00,174.50 L507.00,174.50 L514.00,192.50 L521.00,202.50 L527.00,199.50 L534.00,239.50 L541.00,275.50 L548.00,262.50 L554.00,269.50 L561.00,252.50 L568.00,256.50 L575.00,283.50 L581.00,301.50 L588.00,310.50 L595.00,291.50 L602.00,295.50 L608.00,308.50 L615.00,289.50 L622.00,254.50 L629.00,272.50 L636.00,288.50 L642.00,312.50 L649.00,337.50 L656.00,294.50 L663.00,250.50 L669.00,254.50 L676.00,231.50 L683.00,216.50 L690.00,210.50 L696.00,207.50 L703.00,230.50 L710.00,252.50 L717.00,272.50 L723.00,302.50 L730.00,317.50 L737.00,358.50 L744.00,356.50 L750.00,321.50 L757.00,330.50 L764.00,340.50 L771.00,327.50 L777.00,300.50 L784.00,300.50 L791.00,326.50 L798.00,326.50 L804.00,326.50 L811.00,331.50 L818.00,324.50 L825.00,344.50 L832.00,365.50 L838.00,326.50 L845.00,316.50 L852.00,303.50 L859.00,297.50 L865.00,294.50 L872.00,272.50 L879.00,278.50 L886.00,300.50 L892.00,329.50 L899.00,317.50 L906.00,341.50 L913.00,329.50 L919.00,345.50 L926.00,387.50 L933.00,427.50 L940.00,454.50 L946.00,495.50 L953.00,461.50 L960.00,470.50 L967.00,463.50 L973.00,404.50 L980.00,391.50 L987.00,415.50 L994.00,417.50 L1000.00,412.50 L1007.00,429.50 L1014.00,479.50 L1021.00,473.50 L1028.00,518.50 L1034.00,576.50 L1041.00,500.50 L1048.00,542.50 L1055.00,496.50 L1061.00,469.50 L1068.00,464.50 L1075.00,477.50 L1082.00,491.50 L1088.00,454.50 L1095.00,461.50 L1102.00,500.50 L1109.00,515.50 L1115.00,592.50 L1122.00,566.50 L1129.00,544.50 L1136.00,577.50 L1142.00,610.50 L1149.00,587.50 L1156.00,515.50 L1163.00,503.50 L1169.00,662.50 L1176.00,670.50 L1183.00,581.50 L1190.00,579.50 L1196.00,547.50 L1203.00,524.50 L1210.00,537.50 L1217.00,525.50 L1224.00,522.50 L1230.00,494.50 L1237.00,465.50 L1244.00,470.50 L1251.00,452.50 L1257.00,437.50 L1264.00,429.50 L1271.00,424.50 L1278.00,408.50 L1284.00,402.50 L1291.00,383.50 L1298.00,374.50 L1305.00,404.50 L1311.00,403.50 L1318.00,357.50 L1325.00,339.50 L1332.00,318.50 L1338.00,308.50 L1345.00,322.50 L1352.00,307.50 L1359.00,299.50 L1365.00,285.50 L1372.00,293.50 L1379.00,290.50 L1386.00,297.50 L1392.00,330.50 L1399.00,337.50 L1406.00,329.50 L1413.00,315.50 L1420.00,280.50 L1426.00,282.50 L1433.00,288.50 L1440.00,301.50 L1447.00,314.50 L1453.00,303.50 L1460.00,319.50 L1467.00,360.50 L1474.00,380.50 L1480.00,417.50 L1487.00,392.50 L1494.00,402.50 L1501.00,384.50 L1507.00,374.50 L1514.00,377.50 L1521.00,388.50 L1528.00,389.50 L1534.00,392.50 L1541.00,382.50 L1548.00,378.50 L1555.00,368.50 L1561.00,349.50 L1568.00,336.50 L1575.00,320.50 L1582.00,307.50 L1588.00,291.50 L1595.00,262.50 L1602.00,255.50 L1609.00,228.50 L1616.00,244.50 L1622.00,206.50 L1629.00,187.50 L1636.00,182.50 L1643.00,161.50 L1649.00,159.50 L1656.00,180.50 L1663.00,201.50 L1670.00,185.50 L1676.00,207.50 L1683.00,192.50 L1690.00,194.50 L1697.00,199.50 L1703.00,185.50 L1710.00,164.50 L1717.00,104.50 L1724.00,74.50 L1730.00,63.50 L1737.00,73.50 L1744.00,84.50 L1751.00,59.50 L1757.00,75.50 L1764.00,84.50" fill="none" stroke="#ffffff" stroke-width="1.0" stroke-linejoin="round"/><g shape-rendering="crispEdges" stroke="#fff" stroke-width="1"><line x1="1795.5" y1="0" x2="1795.5" y2="732"/><line x1="0" y1="731.5" x2="1796" y2="731.5"/><line x1="68.5" y1="731" x2="68.5" y2="735"/><line x1="216.5" y1="731" x2="216.5" y2="735"/><line x1="351.5" y1="731" x2="351.5" y2="735"/><line x1="507.5" y1="731" x2="507.5" y2="735"/><line x1="642.5" y1="731" x2="642.5" y2="735"/><line x1="771.5" y1="731" x2="771.5" y2="735"/><line x1="899.5" y1="731" x2="899.5" y2="735"/><line x1="1034.5" y1="731" x2="1034.5" y2="735"/><line x1="1163.5" y1="731" x2="1163.5" y2="735"/><line x1="1271.5" y1="731" x2="1271.5" y2="735"/><line x1="1386.5" y1="731" x2="1386.5" y2="735"/><line x1="1507.5" y1="731" x2="1507.5" y2="735"/><line x1="1663.5" y1="731" x2="1663.5" y2="735"/><line x1="1796" y1="119.5" x2="1799" y2="119.5"/><line x1="1796" y1="274.5" x2="1799" y2="274.5"/><line x1="1796" y1="429.5" x2="1799" y2="429.5"/><line x1="1796" y1="584.5" x2="1799" y2="584.5"/></g><line x1="771.5" y1="748" x2="771.5" y2="765" stroke="#9a9a9a" stroke-width="1" shape-rendering="crispEdges"/><path d="M1796,40.0 L1804,42.6 L1796,45.2 Z" fill="#fff"/><text x="1805" y="48.0" font-size="14" fill="#fff" textLength="60" lengthAdjust="spacingAndGlyphs">8000.0000</text><path d="M1796,194.20000000000002 L1804,196.8 L1796,199.4 Z" fill="#fff"/><text x="1805" y="202.20000000000002" font-size="14" fill="#fff" textLength="60" lengthAdjust="spacingAndGlyphs">7500.0000</text><path d="M1796,349.0 L1804,351.6 L1796,354.20000000000005 Z" fill="#fff"/><text x="1805" y="357.0" font-size="14" fill="#fff" textLength="60" lengthAdjust="spacingAndGlyphs">7000.0000</text><path d="M1796,504.0 L1804,506.6 L1796,509.20000000000005 Z" fill="#fff"/><text x="1805" y="512.0" font-size="14" fill="#fff" textLength="60" lengthAdjust="spacingAndGlyphs">6500.0000</text><path d="M1796,658.8 L1804,661.4 L1796,664.0 Z" fill="#fff"/><text x="1805" y="666.8" font-size="14" fill="#fff" textLength="60" lengthAdjust="spacingAndGlyphs">6000.0000</text><path d="M1797,85.5 L1802.5,77.0 L1868,77.0 L1868,94.0 L1802.5,94.0 Z" fill="#ffffff"/><text x="1804.3" y="91.0" font-size="14" fill="#000" textLength="59.7" lengthAdjust="spacingAndGlyphs">7858.8511</text><path d="M1797,140.5 L1802.5,132.0 L1868,132.0 L1868,149.0 L1802.5,149.0 Z" fill="#00ff00"/><text x="1804.3" y="146.0" font-size="14" fill="#000" textLength="59.7" lengthAdjust="spacingAndGlyphs">7681.4385</text><path d="M1797,224.5 L1802.5,216.0 L1868,216.0 L1868,233.0 L1802.5,233.0 Z" fill="#ff1f40"/><text x="1804.3" y="230.0" font-size="14" fill="#fff" textLength="59.7" lengthAdjust="spacingAndGlyphs">7411.0317</text><path d="M1797,285.5 L1802.5,277.0 L1868,277.0 L1868,294.0 L1802.5,294.0 Z" fill="#fff000"/><text x="1804.3" y="291.0" font-size="14" fill="#000" textLength="59.7" lengthAdjust="spacingAndGlyphs">7213.0239</text><path d="M1797,310.6 L1802.5,302.1 L1868,302.1 L1868,319.1 L1802.5,319.1 Z" fill="#c76fff"/><text x="1804.3" y="316.1" font-size="14" fill="#000" textLength="59.7" lengthAdjust="spacingAndGlyphs">7132.8848</text><text x="130.90" y="746" font-size="14" fill="#fff" textLength="20.2" lengthAdjust="spacingAndGlyphs">Aug</text><text x="272.75" y="746" font-size="14" fill="#fff" textLength="20.5" lengthAdjust="spacingAndGlyphs">Sep</text><text x="418.95" y="746" font-size="14" fill="#fff" textLength="19.5" lengthAdjust="spacingAndGlyphs">Oct</text><text x="564.40" y="746" font-size="14" fill="#fff" textLength="21.2" lengthAdjust="spacingAndGlyphs">Nov</text><text x="695.40" y="746" font-size="14" fill="#fff" textLength="21.2" lengthAdjust="spacingAndGlyphs">Dec</text><text x="824.50" y="746" font-size="14" fill="#fff" textLength="20" lengthAdjust="spacingAndGlyphs">Jan</text><text x="956.25" y="746" font-size="14" fill="#fff" textLength="20.5" lengthAdjust="spacingAndGlyphs">Feb</text><text x="1088.50" y="746" font-size="14" fill="#fff" textLength="20" lengthAdjust="spacingAndGlyphs">Mar</text><text x="1207.20" y="746" font-size="14" fill="#fff" textLength="18.6" lengthAdjust="spacingAndGlyphs">Apr</text><text x="1317.25" y="746" font-size="14" fill="#fff" textLength="22.5" lengthAdjust="spacingAndGlyphs">May</text><text x="1436.60" y="746" font-size="14" fill="#fff" textLength="19.8" lengthAdjust="spacingAndGlyphs">Jun</text><text x="1576.75" y="746" font-size="14" fill="#fff" textLength="17.5" lengthAdjust="spacingAndGlyphs">Jul</text><text x="1720.40" y="746" font-size="14" fill="#fff" textLength="20.2" lengthAdjust="spacingAndGlyphs">Aug</text><text x="371.2" y="762" font-size="14" fill="#fff" textLength="27.6" lengthAdjust="spacingAndGlyphs">2024</text><text x="1269.2" y="762" font-size="14" fill="#fff" textLength="27.6" lengthAdjust="spacingAndGlyphs">2025</text><text x="2.8" y="779" font-size="12.5" fill="#fff" word-spacing="1.3" textLength="314.5" lengthAdjust="spacingAndGlyphs">JCI Index (Jakarta Stock Exchange Composite Index)</text><text x="323" y="779" font-size="12.5" fill="#fff" word-spacing="1.3" textLength="85.7" lengthAdjust="spacingAndGlyphs">CCY EMA graph</text><text x="419.2" y="779" font-size="12.5" fill="#fff" word-spacing="1.3" textLength="167.8" lengthAdjust="spacingAndGlyphs">Daily 17JUL2024-25AUG2025</text><text x="1040.3" y="779" font-size="12.5" fill="#fff" word-spacing="1.2" textLength="239" lengthAdjust="spacingAndGlyphs">Copyright© 2025 Bloomberg Finance L.P.</text><text x="1734.8" y="779" font-size="12.5" fill="#fff" word-spacing="1" textLength="131.5" lengthAdjust="spacingAndGlyphs">25-Aug-2025 10:47:34</text><rect x="388.5" y="635.5" width="243" height="94.5" rx="2.5" fill="#12181d" fill-opacity="0.72" stroke="#02060c" stroke-width="1"/><g shape-rendering="crispEdges" stroke="#7f7f70" stroke-width="1" fill="none"><rect x="396.5" y="647.5" width="6" height="6"/><line x1="398" y1="650.5" x2="401" y2="650.5"/><line x1="399.5" y1="654" x2="399.5" y2="716"/><line x1="399.5" y1="667.5" x2="403" y2="667.5"/><line x1="399.5" y1="683.5" x2="403" y2="683.5"/><line x1="399.5" y1="699.5" x2="403" y2="699.5"/><line x1="399.5" y1="715.5" x2="403" y2="715.5"/></g><rect x="406" y="645.0" width="12" height="12" fill="#ffffff"/><text x="422.4" y="657.0" font-size="14.2" fill="#fff" word-spacing="2" xml:space="preserve" textLength="135.6" lengthAdjust="spacingAndGlyphs">JCI Index - Last Price</text><text x="564.4" y="657.0" font-size="14.2" fill="#fff" textLength="59.5" lengthAdjust="spacingAndGlyphs">7858.8511</text><rect x="406" y="661.0" width="12" height="12" fill="#00ff00"/><text x="422.4" y="673.0" font-size="14.2" fill="#fff" word-spacing="2" xml:space="preserve" textLength="69.6" lengthAdjust="spacingAndGlyphs">EMAVG (20)</text><text x="564.4" y="673.0" font-size="14.2" fill="#fff" textLength="59.5" lengthAdjust="spacingAndGlyphs">7681.4385</text><rect x="406" y="677.0" width="12" height="12" fill="#ff1f40"/><text x="422.4" y="689.0" font-size="14.2" fill="#fff" word-spacing="2" xml:space="preserve" textLength="69.6" lengthAdjust="spacingAndGlyphs">EMAVG (50)</text><text x="564.4" y="689.0" font-size="14.2" fill="#fff" textLength="59.5" lengthAdjust="spacingAndGlyphs">7411.0317</text><rect x="406" y="693.0" width="12" height="12" fill="#fff000"/><text x="422.4" y="705.0" font-size="14.2" fill="#fff" word-spacing="2" xml:space="preserve" textLength="76.5" lengthAdjust="spacingAndGlyphs">EMAVG (100)</text><text x="564.4" y="705.0" font-size="14.2" fill="#fff" textLength="59.5" lengthAdjust="spacingAndGlyphs">7213.0239</text><rect x="406" y="709.0" width="12" height="12" fill="#c76fff"/><text x="422.4" y="721.0" font-size="14.2" fill="#fff" word-spacing="2" xml:space="preserve" textLength="76.5" lengthAdjust="spacingAndGlyphs">EMAVG (200)</text><text x="564.4" y="721.0" font-size="14.2" fill="#fff" textLength="59.5" lengthAdjust="spacingAndGlyphs">7132.8848</text></svg></body></html>
